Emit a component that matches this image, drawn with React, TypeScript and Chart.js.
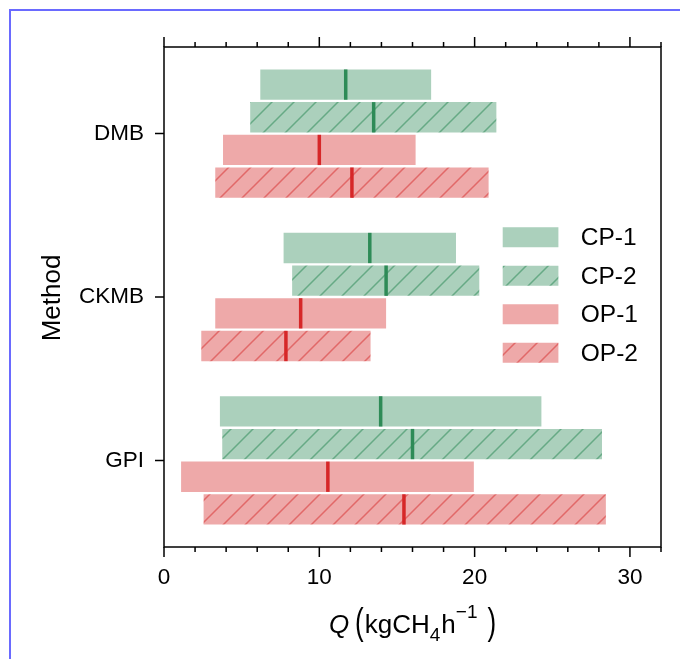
import React, { useEffect, useRef } from "react";
import { Chart, registerables } from "chart.js";

Chart.register(...registerables);

const FONT = '"Liberation Sans", Arial, Helvetica, sans-serif';

// ---- data ----
const methods = ["DMB", "CKMB", "GPI"];
const seriesNames = ["CP-1", "CP-2", "OP-1", "OP-2"];

const cp1Low = [6.2, 7.7, 3.6];
const cp1High = [17.2, 18.8, 24.3];
const cp1Median = [11.7, 13.25, 13.95];

const cp2Low = [5.55, 8.25, 3.75];
const cp2High = [21.4, 20.3, 28.2];
const cp2Median = [13.5, 14.3, 16.0];

const op1Low = [3.8, 3.3, 1.1];
const op1High = [16.2, 14.3, 19.95];
const op1Median = [10.0, 8.8, 10.55];

const op2Low = [3.3, 2.4, 2.55];
const op2High = [20.9, 13.3, 28.45];
const op2Median = [12.1, 7.85, 15.45];

const xMajorTicks = [0, 10, 20, 30];
const xMinorStep = 2;
const xMin = 0;
const xMax = 32;

// ---- styles ----
const GREEN_FILL = "#abd0bc";
const RED_FILL = "#eea9a9";
const GREEN_HATCH = "rgba(46,139,87,0.55)";
const RED_HATCH = "rgba(214,39,40,0.5)";
const GREEN_MED = "#2e8b57";
const RED_MED = "#d62728";

function makeHatch(fill: string, line: string, size: number) {
  const c = document.createElement("canvas");
  c.width = size;
  c.height = size;
  const g = c.getContext("2d")!;
  g.fillStyle = fill;
  g.fillRect(0, 0, size, size);
  g.strokeStyle = line;
  g.lineWidth = 1.5;
  g.beginPath();
  g.moveTo(0, size);
  g.lineTo(size, 0);
  g.moveTo(-size / 2, size / 2);
  g.lineTo(size / 2, -size / 2);
  g.moveTo(size / 2, size * 1.5);
  g.lineTo(size * 1.5, size / 2);
  g.stroke();
  return g.createPattern(c, "repeat") as CanvasPattern;
}

function toPoints(lo: number[], hi: number[]) {
  return methods.map((_, i) => ({ x: [lo[i], hi[i]], y: i }));
}

const frameTicksPlugin = {
  id: "frameTicks",
  afterDraw(chart: any) {
    const { ctx, chartArea: a, scales } = chart;
    ctx.save();
    ctx.strokeStyle = "#000";
    ctx.lineWidth = 1.5;
    ctx.strokeRect(a.left, a.top, a.right - a.left, a.bottom - a.top);
    ctx.beginPath();
    const xs = scales.x;
    for (let v = xMin; v <= xMax + 1e-9; v += xMinorStep) {
      const px = xs.getPixelForValue(v);
      const len = xMajorTicks.includes(v) ? 10 : 5;
      ctx.moveTo(px, a.bottom);
      ctx.lineTo(px, a.bottom + len);
      ctx.moveTo(px, a.top);
      ctx.lineTo(px, a.top - len);
    }
    scales.y.ticks.forEach((t: any) => {
      const py = scales.y.getPixelForValue(t.value);
      ctx.moveTo(a.left, py);
      ctx.lineTo(a.left - 9, py);
    });
    ctx.stroke();
    ctx.restore();
  },
};

const medianPlugin = {
  id: "medians",
  afterDatasetsDraw(chart: any) {
    const { ctx, scales } = chart;
    ctx.save();
    chart.data.datasets.forEach((ds: any, i: number) => {
      const meta = chart.getDatasetMeta(i);
      meta.data.forEach((el: any, j: number) => {
        const { y, height } = el.getProps(["y", "height"], true);
        const px = scales.x.getPixelForValue(ds.medians[j]);
        ctx.fillStyle = ds.medianColor;
        ctx.fillRect(px - 1.75, y - height / 2, 3.5, height);
      });
    });
    ctx.restore();
  },
};

const legendPlugin = {
  id: "customLegend",
  afterDraw(chart: any) {
    const { ctx, chartArea: a } = chart;
    const cy = (a.top + a.bottom) / 2 - 2;
    const pitch = 38.5;
    const pw = 55.7;
    const ph = 20;
    const px0 = a.right - 158.3;
    ctx.save();
    chart.data.datasets.forEach((ds: any, k: number) => {
      const cyk = cy + (k - 1.5) * pitch;
      ctx.fillStyle = ds.backgroundColor;
      ctx.fillRect(px0, cyk - ph / 2, pw, ph);
      ctx.fillStyle = "#000";
      ctx.font = `24.5px ${FONT}`;
      ctx.textBaseline = "middle";
      ctx.textAlign = "left";
      ctx.fillText(ds.label, px0 + pw + 22.4, cyk + 1);
    });
    ctx.restore();
  },
};

const titlesPlugin = {
  id: "axisTitles",
  afterDraw(chart: any) {
    const { ctx, chartArea: a } = chart;
    ctx.save();
    ctx.fillStyle = "#000";
    // y title
    ctx.save();
    ctx.translate(49, (a.top + a.bottom) / 2 + 1);
    ctx.rotate(-Math.PI / 2);
    ctx.font = `26px ${FONT}`;
    ctx.textAlign = "center";
    ctx.textBaseline = "alphabetic";
    ctx.fillText("Method", 0, 0);
    ctx.restore();

    // x title: Q (kgCH4 h^-1)
    const main = `26px ${FONT}`;
    const ital = `italic 26px ${FONT}`;
    const small = `19px ${FONT}`;
    const base = a.bottom + 86.3;
    ctx.textBaseline = "alphabetic";
    ctx.textAlign = "left";
    const pieces: { t: string; f: string; dy: number; gap: number; paren?: boolean }[] = [
      { t: "Q", f: ital, dy: 0, gap: 6 },
      { t: "(", f: main, dy: 0, gap: 1, paren: true },
      { t: "kgCH", f: main, dy: 0, gap: 0 },
      { t: "4", f: small, dy: 7.4, gap: 1 },
      { t: "h", f: main, dy: 0, gap: 0 },
      { t: "\u22121", f: small, dy: -15, gap: 10 },
      { t: ")", f: main, dy: 0, gap: 0, paren: true },
    ];
    let total = 0;
    const widths = pieces.map((p) => {
      ctx.font = p.f;
      const w = ctx.measureText(p.t).width;
      total += w + p.gap;
      return w;
    });
    let x = (a.left + a.right) / 2 - total / 2;
    pieces.forEach((p, i) => {
      ctx.font = p.f;
      if (p.paren) {
        ctx.save();
        ctx.translate(x, base - 9.3);
        ctx.scale(1, 1.43);
        ctx.fillText(p.t, 0, 6.7);
        ctx.restore();
      } else {
        ctx.fillText(p.t, x, base + p.dy);
      }
      x += widths[i] + p.gap;
    });
    ctx.restore();
  },
};

export default function App() {
  const ref = useRef<HTMLCanvasElement | null>(null);

  useEffect(() => {
    if (!ref.current) return;
    const greenHatch = makeHatch(GREEN_FILL, GREEN_HATCH, 22);
    const redHatch = makeHatch(RED_FILL, RED_HATCH, 22);

    const chart = new Chart(ref.current, {
      type: "bar",
      data: {
        datasets: [
          {
            label: seriesNames[0],
            data: toPoints(cp1Low, cp1High),
            backgroundColor: GREEN_FILL,
            medians: cp1Median,
            medianColor: GREEN_MED,
          },
          {
            label: seriesNames[1],
            data: toPoints(cp2Low, cp2High),
            backgroundColor: greenHatch,
            medians: cp2Median,
            medianColor: GREEN_MED,
          },
          {
            label: seriesNames[2],
            data: toPoints(op1Low, op1High),
            backgroundColor: RED_FILL,
            medians: op1Median,
            medianColor: RED_MED,
          },
          {
            label: seriesNames[3],
            data: toPoints(op2Low, op2High),
            backgroundColor: redHatch,
            medians: op2Median,
            medianColor: RED_MED,
          },
        ] as any,
      },
      options: {
        indexAxis: "y",
        animation: false,
        responsive: false,
        borderWidth: 0,
        categoryPercentage: 0.8,
        barPercentage: 0.927,
        layout: { padding: { top: 36, right: 19, left: 0, bottom: 0 } },
        plugins: {
          legend: { display: false },
          tooltip: { enabled: false },
        },
        scales: {
          x: {
            type: "linear",
            position: "bottom",
            min: xMin,
            max: xMax,
            offset: false,
            afterBuildTicks: (s: any) => {
              s.ticks = xMajorTicks.map((v) => ({ value: v }));
            },
            afterFit: (s: any) => {
              s.height = 112;
            },
            ticks: {
              color: "#000",
              padding: 17,
              font: { family: FONT, size: 22.5 },
              callback: (v: any) => String(v),
            },
            grid: { display: false, drawTicks: false, offset: false },
            border: { display: false },
          },
          y: {
            type: "linear",
            reverse: true,
            offset: false,
            min: -0.53,
            max: 2.53,
            afterBuildTicks: (s: any) => {
              s.ticks = methods.map((_, i) => ({ value: i }));
            },
            afterFit: (s: any) => {
              s.width = 153;
            },
            ticks: {
              color: "#000",
              padding: 20,
              font: { family: FONT, size: 22.5 },
              callback: (v: any) => methods[Math.round(Number(v))] ?? "",
            },
            grid: { display: false, drawTicks: false, offset: false },
            border: { display: false },
          },
        },
      } as any,
      plugins: [medianPlugin, frameTicksPlugin, legendPlugin, titlesPlugin],
    });
    return () => chart.destroy();
  }, []);

  return (
    <div style={{ padding: "1px 0 0 1px" }}>
      <div style={{ borderLeft: "2px solid #6a6aff", borderTop: "2px solid #6a6aff" }}>
        <canvas ref={ref} width={669} height={648} style={{ display: "block", width: 669, height: 648 }} />
      </div>
    </div>
  );
}
